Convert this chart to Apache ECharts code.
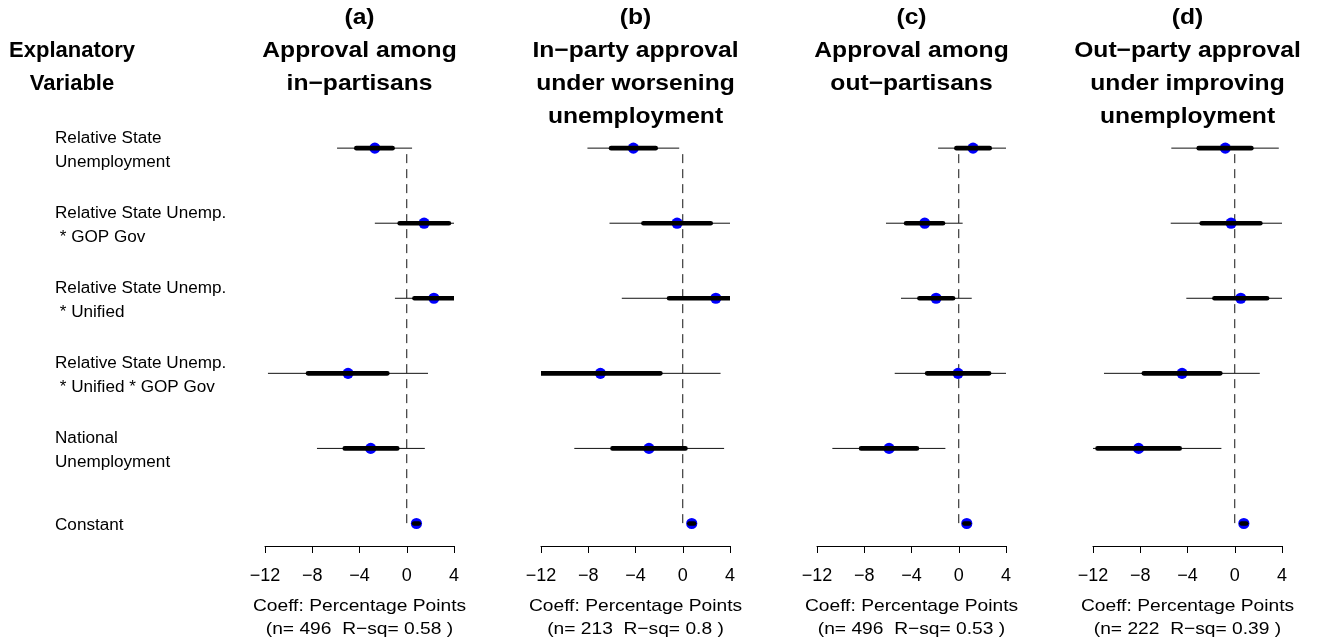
<!DOCTYPE html>
<html>
<head>
<meta charset="utf-8">
<script src="https://cdn.jsdelivr.net/npm/echarts@6/dist/echarts.min.js"></script>
<style>
  html, body { margin: 0; padding: 0; background: #fff; }
  #chart { width: 1319px; height: 641px; }
</style>
</head>
<body>
<div id="chart"></div>
<script>
// Explanatory variables (rows, top to bottom)
const rowLabels = [
  "Relative State\nUnemployment",
  "Relative State Unemp.\n * GOP Gov",
  "Relative State Unemp.\n * Unified",
  "Relative State Unemp.\n * Unified * GOP Gov",
  "National\nUnemployment",
  "Constant"
];

// Panel headings
const panelTitles = [
  ["(a)", "Approval among", "in\u2212partisans"],
  ["(b)", "In\u2212party approval", "under worsening", "unemployment"],
  ["(c)", "Approval among", "out\u2212partisans"],
  ["(d)", "Out\u2212party approval", "under improving", "unemployment"]
];

// Model fit per panel
const sampleSizes = [496, 213, 496, 222];
const rSquared = ["0.58", "0.8", "0.53", "0.39"];

// Coefficient estimates (percentage points), one array per panel
const estA = [-2.70, 1.47, 2.30, -4.97, -3.05, 0.82];
const estB = [-4.18, -0.48, 2.80, -6.97, -2.86, 0.76];
const estC = [1.21, -2.88, -1.92, -0.06, -5.90, 0.68];
const estD = [-0.80, -0.31, 0.51, -4.46, -8.14, 0.77];

// Inner (thick) interval bounds
const innerLoA = [-4.27, -0.60, 0.65, -8.36, -5.25, 0.62];
const innerHiA = [-1.20, 3.57, 3.95, -1.64, -0.80, 1.02];
const innerLoB = [-6.07, -3.33, -1.16, -12.05, -5.95, 0.56];
const innerHiB = [-2.29, 2.37, 6.76, -1.89, 0.23, 0.96];
const innerLoC = [-0.20, -4.46, -3.33, -2.68, -8.27, 0.48];
const innerHiC = [2.62, -1.33, -0.48, 2.57, -3.54, 0.88];
const innerLoD = [-3.05, -2.80, -1.72, -7.70, -11.62, 0.57];
const innerHiD = [1.41, 2.17, 2.74, -1.22, -4.66, 0.97];

// Outer (thin) interval bounds
const outerLoA = [-5.90, -2.70, -1.00, -11.75, -7.60, 0.42];
const outerHiA = [0.45, 5.60, 5.60, 1.80, 1.53, 1.22];
const outerLoB = [-8.07, -6.20, -5.16, -17.10, -9.18, 0.36];
const outerHiB = [-0.30, 5.24, 10.76, 3.20, 3.50, 1.16];
const outerLoC = [-1.75, -6.16, -4.89, -5.42, -10.70, 0.28];
const outerHiC = [4.10, 0.33, 1.10, 5.30, -1.13, 1.08];
const outerLoD = [-5.37, -5.42, -4.10, -11.07, -15.15, 0.37];
const outerHiD = [3.73, 4.80, 5.12, 2.12, -1.13, 1.17];

// X-axis ticks
const xMin = -12, xMax = 4, xStep = 4;

const panels = [
  { est: estA, iLo: innerLoA, iHi: innerHiA, oLo: outerLoA, oHi: outerHiA },
  { est: estB, iLo: innerLoB, iHi: innerHiB, oLo: outerLoB, oHi: outerHiB },
  { est: estC, iLo: innerLoC, iHi: innerHiC, oLo: outerLoC, oHi: outerHiC },
  { est: estD, iLo: innerLoD, iHi: innerHiD, oLo: outerLoD, oHi: outerHiD }
];

const FONT = '"Liberation Sans", Arial, Helvetica, sans-serif';
const panelLeft = [265, 541, 817, 1093];
const panelWidth = 189;
const gridTop = 110.6, gridBottom = 95;

const chart = echarts.init(document.getElementById('chart'), null, { renderer: 'canvas' });

const grids = [], xAxes = [], yAxes = [], series = [];
panels.forEach((p, k) => {
  grids.push({ left: panelLeft[k], width: panelWidth, top: gridTop, bottom: gridBottom, containLabel: false });
  xAxes.push({
    type: 'value', gridIndex: k, min: xMin, max: xMax, interval: xStep,
    splitLine: { show: false },
    axisLine: { show: true, onZero: false, lineStyle: { color: '#000', width: 1 } },
    axisTick: { show: true, length: 7, lineStyle: { color: '#000', width: 1 } },
    axisLabel: {
      margin: 21, color: '#000', fontSize: 18, fontFamily: FONT,
      formatter: v => String(v).replace('-', '\u2212')
    }
  });
  yAxes.push({
    type: 'value', gridIndex: k, min: 0.5, max: 6.3, inverse: true, show: false
  });

  // zero reference line
  series.push({
    type: 'line', xAxisIndex: k, yAxisIndex: k, silent: true, symbol: 'none',
    data: [[0, 1], [0, rowLabels.length]],
    lineStyle: { color: '#111', width: 1, type: [9, 6], dashOffset: 9 },
    z: 1
  });

  const rows = p.est.map((e, i) => [i + 1, e, p.oLo[i], p.oHi[i], p.iLo[i], p.iHi[i]]);
  series.push({
    type: 'custom', xAxisIndex: k, yAxisIndex: k, silent: true, clip: true, z: 2,
    data: rows,
    renderItem: (params, api) => {
      const cs = params.coordSys;
      const clampX = x => Math.max(cs.x, Math.min(cs.x + cs.width, x));
      const row = api.value(0);
      const c = api.coord([api.value(1), row]);
      const o1 = api.coord([api.value(2), row]);
      const o2 = api.coord([api.value(3), row]);
      const i1 = api.coord([api.value(4), row]);
      const i2 = api.coord([api.value(5), row]);
      return {
        type: 'group',
        children: [
          { type: 'circle', shape: { cx: c[0], cy: c[1], r: 5.6 }, style: { fill: '#0000ff' } },
          { type: 'line', shape: { x1: clampX(o1[0]), y1: c[1], x2: clampX(o2[0]), y2: c[1] },
            style: { stroke: '#111', lineWidth: 1 } },
          { type: 'line', shape: { x1: clampX(i1[0]), y1: c[1], x2: clampX(i2[0]), y2: c[1] },
            style: { stroke: '#000', lineWidth: 4.6, lineCap: 'round' } }
        ]
      };
    }
  });
});

chart.setOption({
  backgroundColor: '#fff',
  animation: false,
  grid: grids,
  xAxis: xAxes,
  yAxis: yAxes,
  series: series
});

// Text blocks: headings, row labels, captions
const graphics = [];
function addText(x, y, text, opts) {
  graphics.push({
    type: 'text', x: x, y: y, scaleX: opts.scaleX || 1, silent: true,
    style: {
      x: 0, y: 0, text: text, fill: '#000',
      font: (opts.bold ? 'bold ' : '') + opts.size + 'px ' + FONT,
      align: opts.align || 'center', verticalAlign: 'middle',
      lineHeight: opts.lineHeight || opts.size
    }
  });
}

const titleLineY = [18, 51, 84, 117];
addText(72, titleLineY[1], 'Explanatory', { bold: true, size: 22 });
addText(72, titleLineY[2], 'Variable', { bold: true, size: 22 });

panelTitles.forEach((lines, k) => {
  const cx = panelLeft[k] + panelWidth / 2;
  lines.forEach((t, j) => addText(cx, titleLineY[j], t, { bold: true, size: 22, scaleX: 1.12 }));
  addText(cx, 606, 'Coeff: Percentage Points', { size: 17, scaleX: 1.13 });
  addText(cx, 629, '(n= ' + sampleSizes[k] + '  R\u2212sq= ' + rSquared[k] + ' )', { size: 17, scaleX: 1.13 });
});

rowLabels.forEach((lab, i) => {
  const y = chart.convertToPixel({ yAxisIndex: 0 }, i + 1);
  const lines = lab.split('\n');
  lines.forEach((t, j) => {
    const ly = y + 2 + (j - (lines.length - 1) / 2) * 24;
    addText(55, ly, t, { size: 16, align: 'left', scaleX: 1.07 });
  });
});

chart.setOption({ graphic: graphics });
</script>
</body>
</html>
